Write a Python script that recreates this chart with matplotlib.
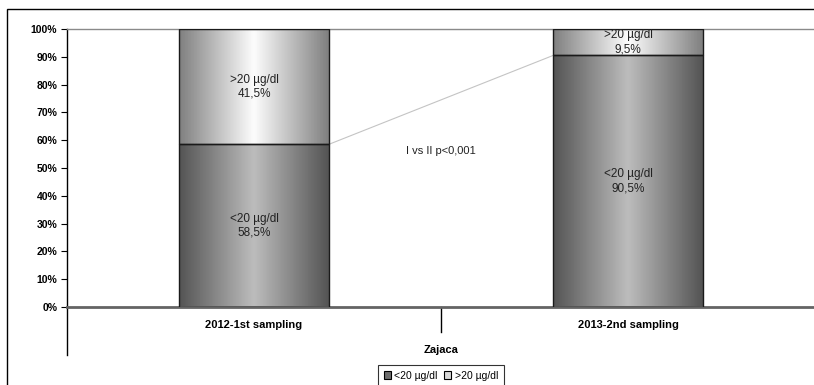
import numpy as np
import matplotlib
matplotlib.use("Agg")
import matplotlib.pyplot as plt
from matplotlib.patches import Rectangle, Patch
from matplotlib.lines import Line2D
import matplotlib.transforms as mtransforms

plt.rcParams["font.family"] = ["Liberation Sans", "DejaVu Sans"]

categories = ["2012-1st sampling", "2013-2nd sampling"]
series_names = ["<20 µg/dl", ">20 µg/dl"]
below_20 = [58.5, 90.5]
above_20 = [41.5, 9.5]
y_ticks = list(range(0, 101, 10))
axis_title = "Zajaca"
note = "I vs II p<0,001"

W, H = 814, 385
fig = plt.figure(figsize=(W / 100, H / 100), dpi=100)
fig.patch.set_facecolor("white")

# outer chart frame, cut off on the right and bottom like the source
fig.add_artist(Rectangle((7 / W, -0.2), 2, 1.2 - 9 / H, transform=fig.transFigure,
                         fill=False, edgecolor="black", lw=1.0, clip_on=False))

ax = fig.add_axes([67 / W, 78 / H, 748 / W, 278 / H])
ax.set_xlim(-0.5, 1.5)
ax.set_ylim(0, 100)

bar_w = 0.4
# edge / centre grey of the horizontal gradient per series
grads = [(0.33, 0.74), (0.50, 0.99)]


def gradient_bar(x, y0, h, edge, centre):
    t = np.abs(np.linspace(-1, 1, 200))
    g = centre + (edge - centre) * t
    ax.imshow(g[np.newaxis, :], cmap="gray", vmin=0, vmax=1, aspect="auto",
              extent=(x - bar_w / 2, x + bar_w / 2, y0, y0 + h), zorder=2,
              interpolation="bilinear")
    ax.add_patch(Rectangle((x - bar_w / 2, y0), bar_w, h, fill=False,
                           edgecolor="#1a1a1a", lw=1.0, zorder=3))


for i, cat in enumerate(categories):
    lo, hi = below_20[i], above_20[i]
    gradient_bar(i, 0, lo, *grads[0])
    gradient_bar(i, lo, hi, *grads[1])
    for name, y0, v in [(series_names[0], 0, lo), (series_names[1], lo, hi)]:
        txt = f"{name}\n{v:.1f}%".replace(".", ",")
        ax.text(i, y0 + v / 2, txt, ha="center", va="center", fontsize=8.5,
                color="#222222", linespacing=1.2, zorder=4)

# series lines between the bars
cum_lo = below_20
cum_hi = [a + b for a, b in zip(below_20, above_20)]
for cum in (cum_lo, cum_hi):
    ax.plot([0 + bar_w / 2, 1 - bar_w / 2], [cum[0], cum[1]],
            color="#c4c4c4", lw=0.8, zorder=1)

ax.text(0.5, 56, note, ha="center", va="center", fontsize=8, color="#222222")

# axes styling
for s in ["top", "right"]:
    ax.spines[s].set_color("#8a8a8a")
    ax.spines[s].set_linewidth(1.0)
ax.spines["bottom"].set_color("#646464")
ax.spines["bottom"].set_linewidth(2.0)
ax.spines["left"].set_color("black")
ax.spines["left"].set_linewidth(1.0)

ax.set_yticks(y_ticks)
ax.set_yticklabels([f"{v}%" for v in y_ticks], fontsize=7.5, fontweight="bold")
ax.tick_params(axis="y", direction="out", length=4, width=0.8, pad=3)
ax.set_xticks([])

# multi-level category axis
trans = mtransforms.blended_transform_factory(ax.transData, ax.transAxes)
for i, cat in enumerate(categories):
    ax.text(i, -18 / 278, cat, transform=trans, ha="center", va="center",
            fontsize=8, fontweight="bold")
ax.text(0.5, -43 / 278, axis_title, transform=ax.transAxes, ha="center",
        va="center", fontsize=8, fontweight="bold")
ax.add_line(Line2D([0, 0], [0, -48 / 278], transform=ax.transAxes,
                   color="black", lw=1.0, clip_on=False))
ax.add_line(Line2D([0.5, 0.5], [0, -25 / 278], transform=ax.transAxes,
                   color="black", lw=1.0, clip_on=False))

handles = [Patch(facecolor="#6e6e6e", edgecolor="black", lw=0.8),
           Patch(facecolor="#d8d8d8", edgecolor="black", lw=0.8)]
leg = fig.legend(handles, series_names, loc="upper center",
                 bbox_to_anchor=(441 / W, 1 - 365 / H), ncol=2, fontsize=7.5,
                 frameon=True, fancybox=False, edgecolor="black",
                 handlelength=0.7, handleheight=0.7, handletextpad=0.3,
                 columnspacing=0.6, borderpad=0.55, borderaxespad=0)
leg.get_frame().set_linewidth(0.8)

fig.savefig("out.png", dpi=100)
